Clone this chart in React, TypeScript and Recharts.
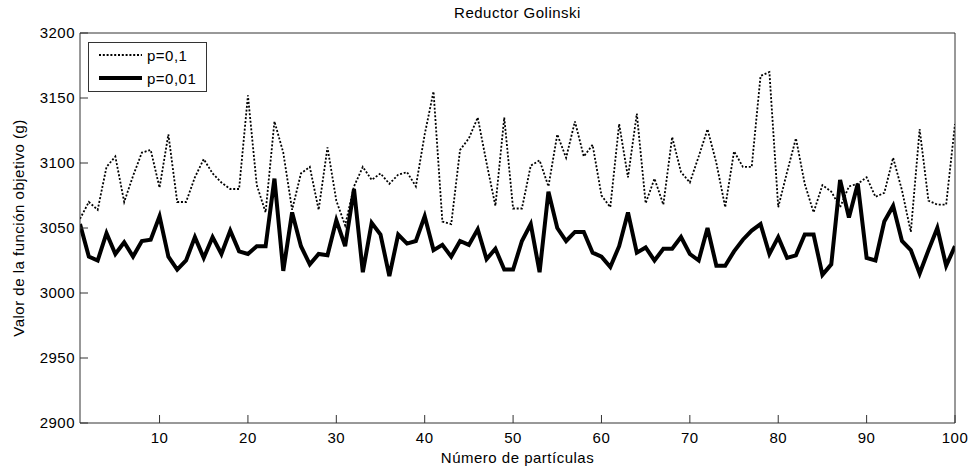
import { LineChart, Line, XAxis, YAxis, Legend } from 'recharts';

const particulas = [
  1, 2, 3, 4, 5, 6, 7, 8, 9, 10, 11, 12, 13, 14, 15, 16, 17, 18, 19, 20,
  21, 22, 23, 24, 25, 26, 27, 28, 29, 30, 31, 32, 33, 34, 35, 36, 37, 38, 39, 40,
  41, 42, 43, 44, 45, 46, 47, 48, 49, 50, 51, 52, 53, 54, 55, 56, 57, 58, 59, 60,
  61, 62, 63, 64, 65, 66, 67, 68, 69, 70, 71, 72, 73, 74, 75, 76, 77, 78, 79, 80,
  81, 82, 83, 84, 85, 86, 87, 88, 89, 90, 91, 92, 93, 94, 95, 96, 97, 98, 99, 100,
];

// p = 0,1 (punteada)
const p01 = [
  3057, 3070, 3064, 3097, 3105, 3070, 3090, 3108, 3110, 3081,
  3122, 3070, 3070, 3089, 3103, 3092, 3085, 3080, 3080, 3152,
  3083, 3062, 3132, 3108, 3064, 3092, 3097, 3064, 3112, 3071,
  3052, 3082, 3097, 3087, 3092, 3084, 3091, 3093, 3082, 3122,
  3155, 3055, 3053, 3110, 3119, 3135, 3100, 3067, 3135, 3065,
  3065, 3098, 3102, 3082, 3122, 3104, 3132, 3105, 3114, 3075,
  3066, 3130, 3089, 3138, 3069, 3088, 3068, 3120, 3093, 3085,
  3105, 3126, 3100, 3066, 3109, 3097, 3097, 3167, 3170, 3066,
  3093, 3119, 3084, 3062, 3083, 3078, 3066, 3082, 3084, 3089,
  3074, 3077, 3104, 3079, 3047, 3126, 3071, 3068, 3068, 3130,
];

// p = 0,01 (gruesa)
const p001 = [
  3053, 3028, 3025, 3046, 3030, 3039, 3028, 3040, 3041, 3059,
  3028, 3018, 3025, 3043, 3027, 3043, 3030, 3048, 3032, 3030,
  3036, 3036, 3088, 3017, 3062, 3036, 3022, 3030, 3029, 3056,
  3036, 3080, 3016, 3054, 3045, 3013, 3045, 3038, 3040, 3059,
  3033, 3037, 3028, 3040, 3037, 3049, 3026, 3034, 3018, 3018,
  3040, 3053, 3016, 3078, 3050, 3040, 3047, 3047, 3031, 3028,
  3020, 3036, 3062, 3031, 3035, 3025, 3034, 3034, 3043, 3030,
  3025, 3050, 3021, 3021, 3032, 3041, 3048, 3053, 3030, 3043,
  3027, 3029, 3045, 3045, 3014, 3022, 3087, 3058, 3084, 3027,
  3025, 3055, 3067, 3040, 3033, 3015, 3033, 3050, 3021, 3036,
];

const xTicks = [10, 20, 30, 40, 50, 60, 70, 80, 90, 100];
const yTicks = [2900, 2950, 3000, 3050, 3100, 3150, 3200];

const data = particulas.map((x, i) => ({ x, a: p01[i], b: p001[i] }));

const axisColor = '#333';
const font = { fontSize: 15, fill: '#000', letterSpacing: 0.5 };

const LegendBox = () => (
  <div style={{ position: 'relative', width: '100%', height: '100%' }}>
    {[
      { name: 'p=0,1', dash: '2 1.8', w: 1.8, top: 12 },
      { name: 'p=0,01', dash: undefined, w: 4, top: 35 },
    ].map((r) => (
      <div key={r.name} style={{ position: 'absolute', left: 0, top: r.top - 10, height: 20, display: 'flex', alignItems: 'center' }}>
        <svg width={58} height={20}>
          <line x1={10} x2={53} y1={10} y2={10} stroke="#000" strokeWidth={r.w} strokeDasharray={r.dash} />
        </svg>
        <span style={{ fontSize: 15, letterSpacing: 0.5, color: '#000' }}>{r.name}</span>
      </div>
    ))}
  </div>
);

export default function App() {
  return (
    <div style={{ position: 'absolute', left: 0, top: 0, width: 976, height: 470, background: '#fff', fontFamily: '"Liberation Sans", Arial, sans-serif' }}>
      <LineChart width={976} height={470} data={data} margin={{ top: 0, right: 0, bottom: 0, left: 0 }}>
        <XAxis
          xAxisId="b"
          dataKey="x"
          type="number"
          domain={[1, 100]}
          ticks={xTicks}
          allowDataOverflow
          height={47}
          stroke={axisColor}
          tickSize={-8}
          tickMargin={17}
          tick={font}
          label={{ value: 'Número de partículas', position: 'insideBottom', offset: 7, fill: '#000', fontSize: 15, style: { letterSpacing: 0.5 } }}
        />
        <XAxis
          xAxisId="t"
          dataKey="x"
          type="number"
          orientation="top"
          domain={[1, 100]}
          ticks={xTicks}
          allowDataOverflow
          height={33}
          stroke={axisColor}
          tickSize={-8}
          tick={false}
          label={{ value: 'Reductor Golinski', position: 'insideTop', offset: 7, fill: '#000', fontSize: 15, style: { letterSpacing: 0.5 } }}
        />
        <YAxis
          yAxisId="l"
          type="number"
          domain={[2900, 3200]}
          ticks={yTicks}
          allowDataOverflow
          width={80}
          stroke={axisColor}
          tickSize={-8}
          tickMargin={13}
          tick={font}
          label={{ value: 'Valor de la función objetivo (g)', angle: -90, position: 'insideLeft', offset: 19, fill: '#000', fontSize: 15, style: { textAnchor: 'middle', letterSpacing: 0.5 } }}
        />
        <YAxis
          yAxisId="r"
          type="number"
          orientation="right"
          domain={[2900, 3200]}
          ticks={yTicks}
          allowDataOverflow
          width={21}
          stroke={axisColor}
          tickSize={-8}
          tick={false}
        />
        <Legend
          layout="vertical"
          align="center"
          verticalAlign="middle"
          width={119}
          height={50}
          wrapperStyle={{ left: 88, top: 42, width: 119, height: 50, boxSizing: 'border-box', border: '1px solid #333', background: '#fff' }}
          content={() => <LegendBox />}
        />
        <Line
          xAxisId="b"
          yAxisId="l"
          type="linear"
          dataKey="a"
          name="p=0,1"
          stroke="#000"
          strokeWidth={1.8}
          strokeDasharray="2 1.8"
          dot={false}
          isAnimationActive={false}
        />
        <Line
          xAxisId="t"
          yAxisId="r"
          type="linear"
          dataKey="b"
          name="p=0,01"
          stroke="#000"
          strokeWidth={4}
          dot={false}
          isAnimationActive={false}
        />
      </LineChart>
    </div>
  );
}
